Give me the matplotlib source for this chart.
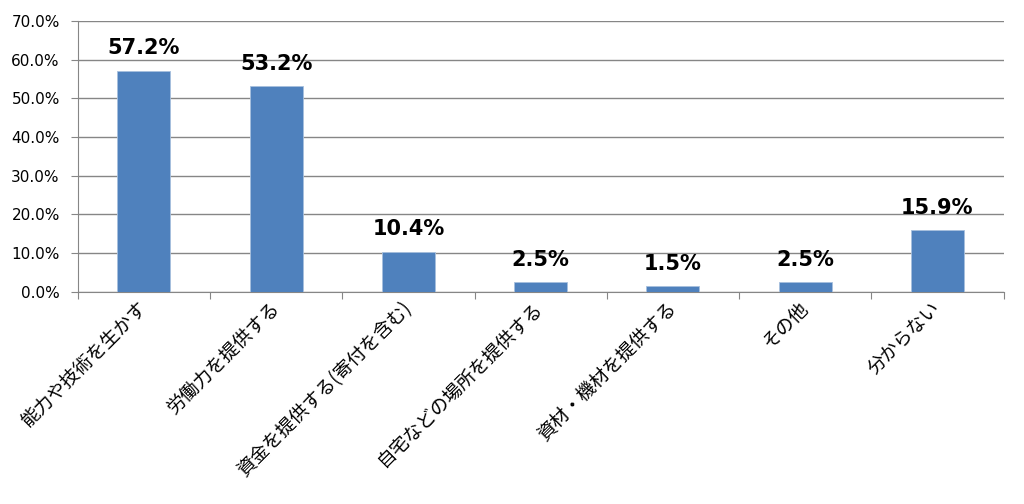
import matplotlib.pyplot as plt
import numpy as np

plt.rcParams['font.family'] = ['Noto Sans CJK JP', 'DejaVu Sans']

categories = ['能力や技術を生かす', '労働力を提供する', '資金を提供する(寄付を含む)',
              '自宅などの場所を提供する', '資材・機材を提供する', 'その他', '分からない']
values = [57.2, 53.2, 10.4, 2.5, 1.5, 2.5, 15.9]

fig = plt.figure(figsize=(10.24, 5.04), dpi=100)
ax = fig.add_axes([0.076, 0.421, 0.904, 0.537])

x = np.arange(len(categories))
bars = ax.bar(x, values, width=0.4, color='#4F81BD', edgecolor='#A7C0DE', linewidth=0.6, zorder=3)

for xi, v in zip(x, values):
    ax.text(xi, v + 3.2, f'{v:.1f}%', ha='center', va='bottom', fontsize=15,
            fontweight='bold', family=['DejaVu Sans'])

ax.set_xlim(-0.5, len(categories) - 0.5)
ax.set_ylim(0, 70)
ax.set_yticks(np.arange(0, 71, 10))
ax.set_yticklabels([f'{t:.1f}%' for t in np.arange(0, 71, 10)], fontsize=11, family=['DejaVu Sans'])
ax.yaxis.grid(True, color='#868686', linewidth=1, zorder=0)

# category boundary ticks
ax.set_xticks(np.arange(-0.5, len(categories) + 0.5, 1))
ax.set_xticklabels([])
ax.tick_params(axis='x', length=5, color='#868686', direction='out')
ax.tick_params(axis='y', length=5, color='#868686', direction='out', pad=8)
for xi, lab in zip(x, categories):
    ax.text(xi, -3.5, lab, rotation=45, ha='right', va='center', rotation_mode='anchor',
            fontsize=13.5, transform=ax.transData)

for s in ['top', 'right']:
    ax.spines[s].set_visible(False)
for s in ['left', 'bottom']:
    ax.spines[s].set_color('#868686')

plt.savefig('out.png', dpi=100)
